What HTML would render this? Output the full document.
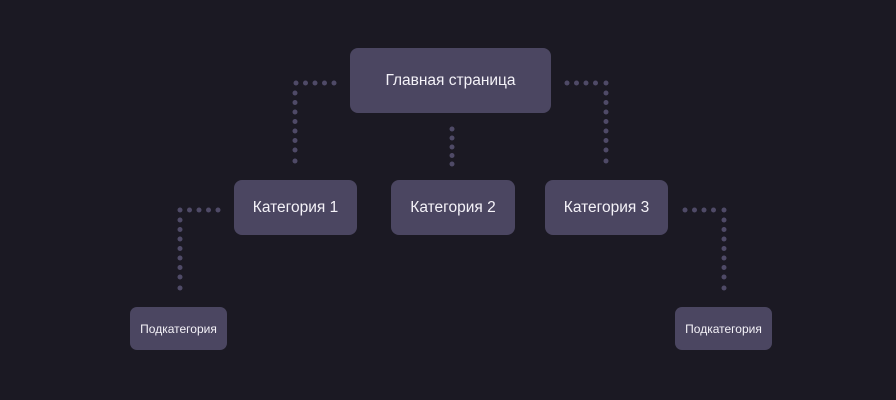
<!DOCTYPE html>
<html><head><meta charset="utf-8"><style>
body{margin:0;background:#1b1923;width:896px;height:400px;overflow:hidden;font-family:"Liberation Sans",sans-serif}
.b{position:absolute;background:#4b4661;border-radius:8px;color:#f4f2f8;display:flex;align-items:center;justify-content:center;font-size:15.5px}
.s{font-size:12px;border-radius:7px}
svg{position:absolute;left:0;top:0}
</style></head><body>
<svg width="896" height="400" fill="#4f4a67">
<g>
<circle cx="296" cy="83" r="2.5"/><circle cx="305.5" cy="83" r="2.5"/><circle cx="315" cy="83" r="2.5"/><circle cx="324.5" cy="83" r="2.5"/><circle cx="334" cy="83" r="2.5"/>
<circle cx="295" cy="93" r="2.5"/><circle cx="295" cy="102.5" r="2.5"/><circle cx="295" cy="112" r="2.5"/><circle cx="295" cy="121.5" r="2.5"/><circle cx="295" cy="131" r="2.5"/><circle cx="295" cy="140.5" r="2.5"/><circle cx="295" cy="150" r="2.5"/><circle cx="295" cy="161" r="2.5"/>
<circle cx="567" cy="83" r="2.5"/><circle cx="576.5" cy="83" r="2.5"/><circle cx="586" cy="83" r="2.5"/><circle cx="595.5" cy="83" r="2.5"/><circle cx="606" cy="83" r="2.5"/>
<circle cx="606" cy="93" r="2.5"/><circle cx="606" cy="102.5" r="2.5"/><circle cx="606" cy="112" r="2.5"/><circle cx="606" cy="121.5" r="2.5"/><circle cx="606" cy="131" r="2.5"/><circle cx="606" cy="140.5" r="2.5"/><circle cx="606" cy="150" r="2.5"/><circle cx="606" cy="161" r="2.5"/>
<circle cx="452" cy="129" r="2.5"/><circle cx="452" cy="138" r="2.5"/><circle cx="452" cy="147" r="2.5"/><circle cx="452" cy="155.5" r="2.5"/><circle cx="452" cy="164" r="2.5"/>
<circle cx="180" cy="210" r="2.5"/><circle cx="189.5" cy="210" r="2.5"/><circle cx="199" cy="210" r="2.5"/><circle cx="208.5" cy="210" r="2.5"/><circle cx="218" cy="210" r="2.5"/>
<circle cx="180" cy="220" r="2.5"/><circle cx="180" cy="229.5" r="2.5"/><circle cx="180" cy="239" r="2.5"/><circle cx="180" cy="248.5" r="2.5"/><circle cx="180" cy="258" r="2.5"/><circle cx="180" cy="267.5" r="2.5"/><circle cx="180" cy="277" r="2.5"/><circle cx="180" cy="288" r="2.5"/>
<circle cx="685" cy="210" r="2.5"/><circle cx="694.5" cy="210" r="2.5"/><circle cx="704" cy="210" r="2.5"/><circle cx="713.5" cy="210" r="2.5"/><circle cx="724" cy="210" r="2.5"/>
<circle cx="724" cy="220" r="2.5"/><circle cx="724" cy="229.5" r="2.5"/><circle cx="724" cy="239" r="2.5"/><circle cx="724" cy="248.5" r="2.5"/><circle cx="724" cy="258" r="2.5"/><circle cx="724" cy="267.5" r="2.5"/><circle cx="724" cy="277" r="2.5"/><circle cx="724" cy="288" r="2.5"/>
</g></svg>
<div class="b" style="left:350px;top:48px;width:201px;height:65px">Главная страница</div>
<div class="b" style="left:234px;top:180px;width:123px;height:55px">Категория 1</div>
<div class="b" style="left:391px;top:180px;width:124px;height:55px">Категория 2</div>
<div class="b" style="left:545px;top:180px;width:123px;height:55px">Категория 3</div>
<div class="b s" style="left:130px;top:307px;width:97px;height:43px">Подкатегория</div>
<div class="b s" style="left:675px;top:307px;width:97px;height:43px">Подкатегория</div>
</body></html>
